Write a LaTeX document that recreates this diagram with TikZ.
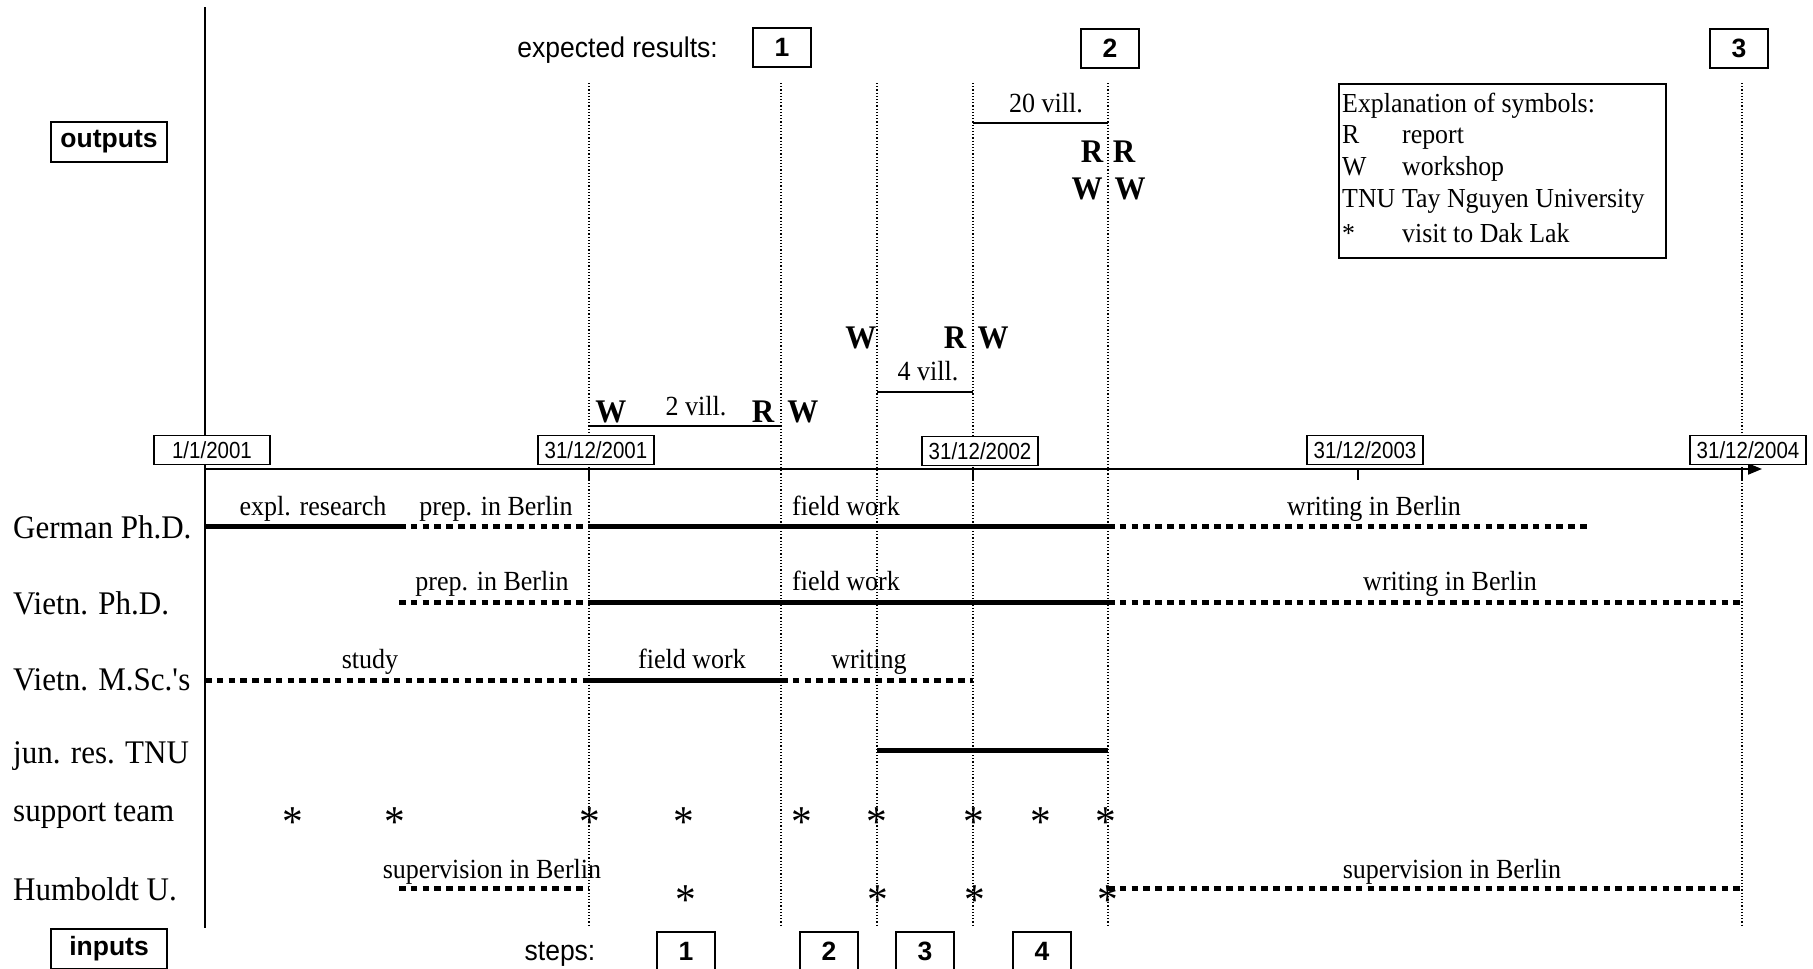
\documentclass[tikz,border=0pt]{standalone}
\usepackage{fontspec}
\setmainfont[FakeStretch=0.94]{Liberation Serif}
\setsansfont{Liberation Sans}
\newfontfamily\datefont[FakeStretch=0.88]{Liberation Sans}
\newfontfamily\plainfont[FakeStretch=0.93]{Liberation Sans}
\usetikzlibrary{arrows.meta}
\begin{document}
\begin{tikzpicture}[x=1pt,y=-1pt,
  lab/.style={font=\rmfamily\fontsize{33}{33}\selectfont, anchor=base west, inner sep=0},
  act/.style={font=\rmfamily\fontsize{27.7}{27.7}\selectfont, anchor=base, inner sep=0},
  sym/.style={font=\rmfamily\bfseries\fontsize{33}{33}\selectfont, anchor=base, inner sep=0},
  leg/.style={font=\rmfamily\fontsize{27.5}{27.5}\selectfont, anchor=base west, inner sep=0},
  star/.style={font=\rmfamily\fontsize{44}{44}\selectfont, anchor=base, inner sep=0},
  datebox/.style={draw, line width=1.5, fill=white, font=\datefont\fontsize{23.3}{23.3}\selectfont, minimum width=116, minimum height=29, inner sep=0},
  numbox/.style={draw, line width=2, fill=white, font=\sffamily\bfseries\fontsize{26.5}{26.5}\selectfont, minimum width=58, minimum height=39, inner sep=0},
  iobox/.style={numbox, minimum width=116, minimum height=40},
  plain/.style={font=\plainfont\fontsize{28.5}{28.5}\selectfont, inner sep=0},
  guide/.style={line width=1.2, dash pattern=on 1.2 off 2},
  bar/.style={line width=5},
  dbar/.style={line width=5, dash pattern=on 6.5 off 5.3},
  thinline/.style={line width=2},
]
\useasboundingbox (0,0) rectangle (1813,969);

% dotted guide lines
\foreach \gx/\gn in {589/ga,781/gb,877/gc,973/gd,1108/ge,1742/gf}{
  \coordinate (\gn top) at (\gx,83);
  \coordinate (\gn bot) at (\gx,925);
  \draw[guide] (\gn top) -- (\gn bot);
}

% axes
\coordinate (vtop) at (205,7);
\coordinate (vbot) at (205,928);
\draw[line width=2] (vtop) -- (vbot);
\coordinate (hstart) at (205,469);
\coordinate (hend) at (1762,469);
\draw[line width=2, -{Triangle[length=14,width=11]}] (hstart) -- (hend);
\foreach \tx in {589,973,1358,1742}{
  \draw[line width=2] (\tx,469) -- (\tx,480);
}

% date boxes
\node[datebox] (d0) at (212,450) {1/1/2001};
\node[datebox] (d1) at (596,450) {31/12/2001};
\node[datebox] (d2) at (980,451) {31/12/2002};
\node[datebox] (d3) at (1365,450) {31/12/2003};
\node[datebox] (d4) at (1748,450) {31/12/2004};

% top
\node[plain, anchor=base east] (exp) at (718,57) {expected results:};
\node[numbox] (r1) at (782,47) {1};
\node[numbox] (r2) at (1110,48) {2};
\node[numbox] (r3) at (1739,48) {3};
\node[iobox] (out) at (109,142) {outputs};
\node[iobox] (in) at (109,949) {inputs};

% legend
\node[draw, line width=2, minimum width=327, minimum height=174, inner sep=0, anchor=north west] (legend) at (1338,83) {};
\node[leg] (l0) at (1342,112) {Explanation of symbols:};
\node[leg] (l1a) at (1342,143) {R};
\node[leg] (l1b) at (1402,143) {report};
\node[leg] (l2a) at (1342,175) {W};
\node[leg] (l2b) at (1402,175) {workshop};
\node[leg] (l3a) at (1342,207) {TNU};
\node[leg] (l3b) at (1402,207) {Tay Nguyen University};
\node[leg] (l4a) at (1342,242) {*};
\node[leg] (l4b) at (1402,242) {visit to Dak Lak};

% outputs
\node[act] (v20) at (1046,112) {20 vill.};
\draw[thinline] (973,123) -- (1108,123);
\node[sym] (o1) at (1092,162) {R};
\node[sym] (o2) at (1124,162) {R};
\node[sym] (o3) at (1087,199) {W};
\node[sym] (o4) at (1130,199) {W};
\node[sym] (o5) at (861,348) {W};
\node[sym] (o6) at (955,348) {R};
\node[sym] (o7) at (993,348) {W};
\node[act] (v4) at (928,380) {4 vill.};
\draw[thinline] (877,392) -- (973,392);
\node[sym] (o8) at (611,422) {W};
\node[act] (v2) at (696,415) {2 vill.};
\node[sym] (o9) at (763,422) {R};
\node[sym] (o10) at (803,422) {W};
\draw[thinline] (589,426) -- (781,426);

% row labels
\node[lab] (rowA) at (13,538) {German Ph.D.};
\node[lab] (rowB) at (13,614) {Vietn. Ph.D.};
\node[lab] (rowC) at (13,690) {Vietn. M.Sc.\textquotesingle s};
\node[lab] (rowD) at (13,763) {jun. res. TNU};
\node[lab] (rowE) at (13,821) {support team};
\node[lab] (rowF) at (13,900) {Humboldt U.};

% German Ph.D.
\draw[bar] (205,526) -- (399,526);
\draw[dbar] (399,526) -- (589,526);
\draw[bar] (589,526) -- (1108,526);
\draw[dbar] (1108,526) -- (1587,526);
\node[act] (ga1) at (313,515) {expl. research};
\node[act] (ga2) at (496,515) {prep. in Berlin};
\node[act] (ga3) at (846,515) {field work};
\node[act] (ga4) at (1374,515) {writing in Berlin};

% Vietn. Ph.D.
\draw[dbar] (399,602) -- (589,602);
\draw[bar] (589,602) -- (1108,602);
\draw[dbar] (1108,602) -- (1742,602);
\node[act] (gb1) at (492,590) {prep. in Berlin};
\node[act] (gb2) at (846,590) {field work};
\node[act] (gb3) at (1450,590) {writing in Berlin};

% Vietn. M.Sc.'s
\draw[dbar] (205,680) -- (589,680);
\draw[bar] (589,680) -- (781,680);
\draw[dbar] (781,680) -- (973,680);
\node[act] (gc1) at (370,668) {study};
\node[act] (gc2) at (692,668) {field work};
\node[act] (gc3) at (869,668) {writing};

% jun. res. TNU
\draw[bar] (877,750) -- (1108,750);

% support team
\foreach \sx [count=\i] in {293,395,590,684,802,877,974,1041,1106}{
  \node[star] (st\i) at (\sx,836) {*};
}

% Humboldt U.
\draw[dbar] (399,888) -- (589,888);
\draw[dbar] (1108,888) -- (1742,888);
\node[act] (gf1) at (492,878) {supervision in Berlin};
\node[act] (gf2) at (1452,878) {supervision in Berlin};
\foreach \sx [count=\i] in {686,878,975,1108}{
  \node[star] (hs\i) at (\sx,914) {*};
}

% steps
\node[plain, anchor=base] (steps) at (560,960) {steps:};
\node[numbox] (s1) at (686,951) {1};
\node[numbox] (s2) at (829,951) {2};
\node[numbox] (s3) at (925,951) {3};
\node[numbox] (s4) at (1042,951) {4};
\end{tikzpicture}
\end{document}
